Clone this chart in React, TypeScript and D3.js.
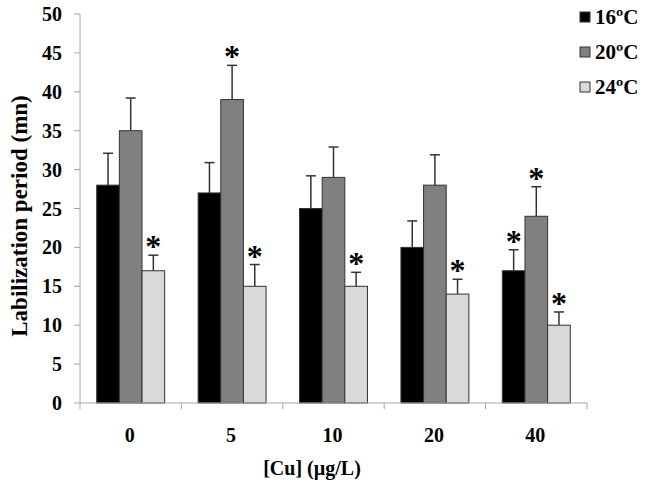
import React from "react";
import * as d3 from "d3";

const categories = ["0", "5", "10", "20", "40"];
const seriesTemps = ["16", "20", "24"];
const values16 = [28, 27, 25, 20, 17];
const values20 = [35, 39, 29, 28, 24];
const values24 = [17, 15, 15, 14, 10];
const err16 = [4.1, 3.9, 4.2, 3.4, 2.7];
const err20 = [4.2, 4.4, 3.9, 3.9, 3.8];
const err24 = [2.0, 2.8, 1.8, 1.9, 1.7];
const sig16 = [false, false, false, false, true];
const sig20 = [false, true, false, false, true];
const sig24 = [true, true, true, true, true];
const yTicks = [0, 5, 10, 15, 20, 25, 30, 35, 40, 45, 50];
const colors = ["#000000", "#808080", "#d9d9d9"];

export default function App() {
  const W = 666, H = 485;
  const left = 80, right = 587, top = 14, bottom = 403;
  const x = d3.scaleBand<string>().domain(categories).range([left, right]).paddingInner(0).paddingOuter(0);
  const y = d3.scaleLinear().domain([0, 50]).range([bottom, top]);
  const series = [values16, values20, values24];
  const errs = [err16, err20, err24];
  const sigs = [sig16, sig20, sig24];
  const font = "'Liberation Serif', 'Times New Roman', serif";
  const bw = x.bandwidth();
  const groupW = bw * 0.67;
  const barW = groupW / 3;
  const off = (bw - groupW) / 2;
  return (
    <svg width={W} height={H} style={{ position: "absolute", left: 0, top: 0, background: "#fff" }}>
      <line x1={left} x2={left} y1={top} y2={bottom} stroke="#a6a6a6" strokeWidth={1} />
      {yTicks.map((t) => (
        <g key={t}>
          <line x1={left - 6} x2={left} y1={y(t)} y2={y(t)} stroke="#a6a6a6" />
          <text x={62} y={y(t)} dy="0.35em" textAnchor="end" fontFamily={font} fontWeight="bold" fontSize={20}>{t}</text>
        </g>
      ))}
      {categories.map((c, i) => (
        <g key={c}>
          {series.map((s, k) => {
            const bx = (x(c) as number) + off + k * barW;
            const cx = bx + barW / 2;
            const topVal = s[i] + errs[k][i];
            return (
              <g key={k}>
                <line x1={cx} x2={cx} y1={y(s[i])} y2={y(topVal)} stroke="#333" strokeWidth={1.5} />
                <line x1={cx - 5} x2={cx + 5} y1={y(topVal)} y2={y(topVal)} stroke="#333" strokeWidth={1.5} />
                <rect x={bx} y={y(s[i])} width={barW} height={y(0) - y(s[i])} fill={colors[k]} stroke="#333" strokeWidth={1} />
                {sigs[k][i] && (
                  <text x={cx} y={y(topVal) + 2} textAnchor="middle" fontFamily={font} fontWeight="bold" fontSize={32}>*</text>
                )}
              </g>
            );
          })}
        </g>
      ))}
      <line x1={left} x2={right} y1={bottom} y2={bottom} stroke="#a6a6a6" />
      {[...categories.map((c) => x(c) as number), right].map((v, i) => (
        <line key={i} x1={v} x2={v} y1={bottom} y2={bottom + 6} stroke="#a6a6a6" />
      ))}
      {categories.map((c) => (
        <text key={c} x={(x(c) as number) + bw / 2 - 1} y={435} dy="0.35em" textAnchor="middle" fontFamily={font} fontWeight="bold" fontSize={20}>{c}</text>
      ))}
      <text x={312} y={468} dy="0.35em" textAnchor="middle" fontFamily={font} fontWeight="bold" fontSize={20}>[Cu] (µg/L)</text>
      <text transform={`translate(19,216) rotate(-90)`} textAnchor="middle" dy="0.35em" fontFamily={font} fontWeight="bold" fontSize={23}>Labilization period (mn)</text>
      {seriesTemps.map((n, k) => (
        <g key={n} transform={`translate(580,${17 + k * 35})`}>
          <rect x={0} y={-5} width={10} height={10} fill={colors[k]} stroke="#333" strokeWidth={1} />
          <text x={15} y={0} dy="0.35em" fontFamily={font} fontWeight="bold" fontSize={21}>
            {n}
            <tspan fontSize={22}>º</tspan>
            C
          </text>
        </g>
      ))}
    </svg>
  );
}
